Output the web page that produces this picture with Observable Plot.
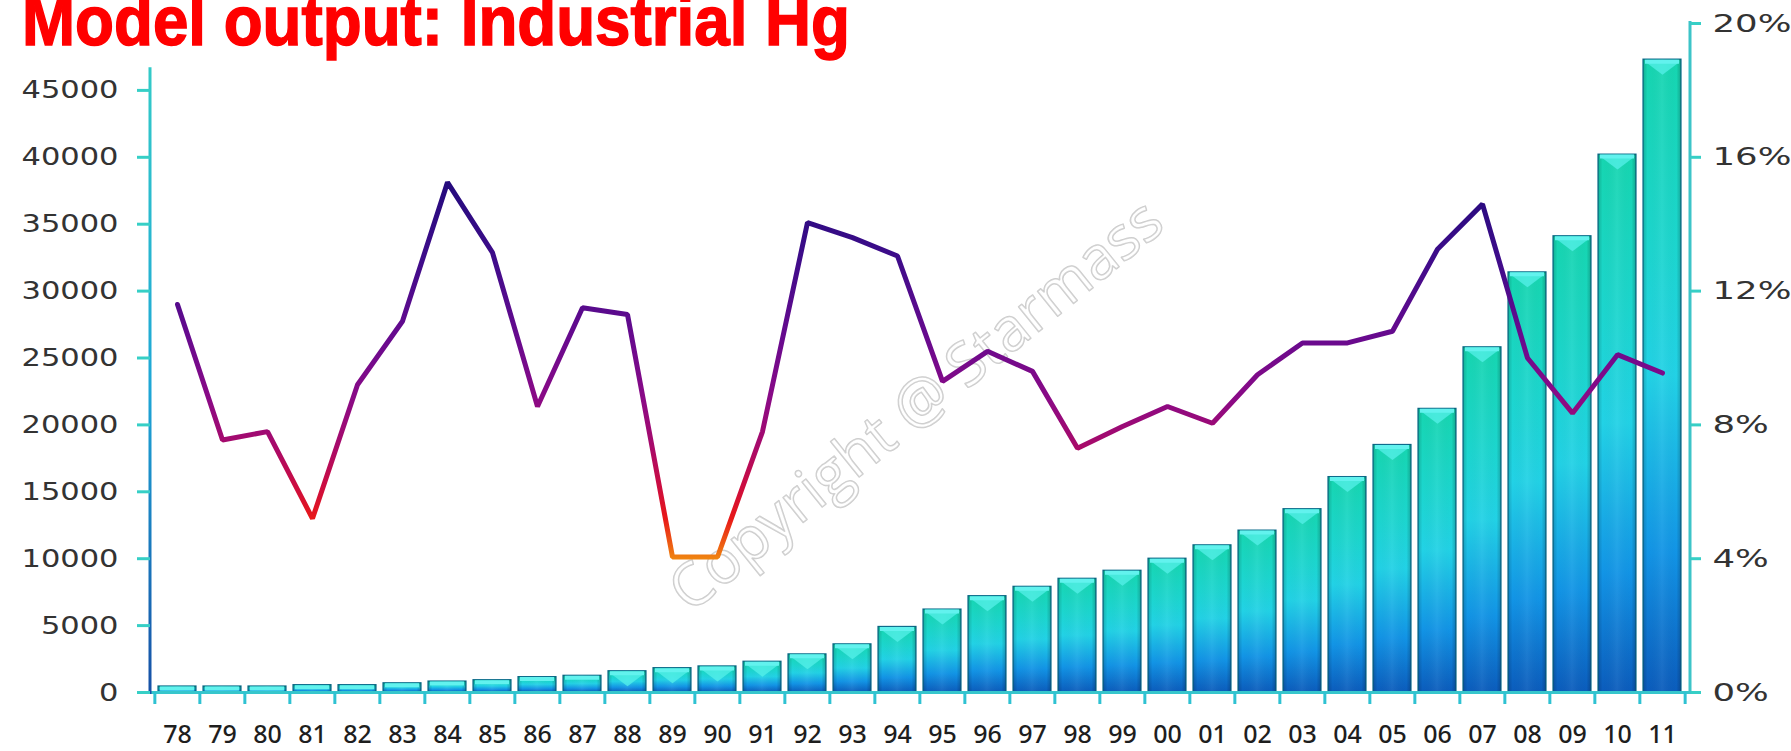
<!DOCTYPE html>
<html><head><meta charset="utf-8">
<script src="https://cdn.jsdelivr.net/npm/d3@7"></script>
<script src="https://cdn.jsdelivr.net/npm/@observablehq/plot@0.6"></script>
<style>
body{margin:0;background:#fff;}
#wrap{position:relative;width:1791px;height:751px;overflow:hidden;background:#fff;}
#wrap svg{position:absolute;left:0;top:0;}
#title{position:absolute;left:22px;top:-14px;font-family:"Liberation Sans",Arial,sans-serif;font-weight:bold;font-size:70px;color:#ff0000;line-height:1;white-space:nowrap;z-index:2;transform-origin:left top;-webkit-text-stroke:1.5px #ff0000;}
</style></head>
<body><div id="wrap"><div id="title">Model output: Industrial Hg</div></div>
<script>
// ---- data ----
const years = ["78","79","80","81","82","83","84","85","86","87","88","89","90","91","92","93","94","95","96","97","98","99","00","01","02","03","04","05","06","07","08","09","10","11"];
const output = [450,450,450,550,550,690,820,920,1150,1250,1590,1820,1950,2300,2850,3600,4900,6200,7200,7900,8500,9100,10000,11000,12100,13700,16100,18500,21200,25800,31400,34100,40200,47300];
const growthPct = [11.6,7.55,7.8,5.2,9.2,11.1,15.25,13.15,8.55,11.5,11.3,4.05,4.05,7.8,14.05,13.6,13.05,9.3,10.2,9.6,7.3,7.95,8.55,8.05,9.5,10.45,10.45,10.8,13.25,14.6,10.0,8.35,10.1,9.55];
const leftTicks = [0,5000,10000,15000,20000,25000,30000,35000,40000,45000];
const rightTicksPct = [0,4,8,12,16,20];
const watermark = ["Copyright @ Starmass"];

// ---- layout ----
const W = 1791, H = 751;
const mL = 150, mR = 101, mT = 23, mB = 59;
const leftMax = 50000, pctMax = 20, k = leftMax / pctMax;
const pad = 0.15;
const step = (W - mL - mR) / years.length;
const halfBar = step * (1 - pad) / 2;

const rows = years.map((y, i) => ({year: y, output: output[i], pct: growthPct[i]}));

function defsMark(index, scales, values, dim) {
  const g = d3.create("svg:g");
  const defs = g.append("defs");
  const bg = defs.append("linearGradient").attr("id", "barGrad")
    .attr("x1", 0).attr("y1", 0).attr("x2", 0).attr("y2", 1);
  [[0, "#16d6b0"], [0.3, "#1cd6cf"], [0.5, "#22d2e6"], [0.78, "#1294e6"], [1, "#0b5cbc"]]
    .forEach(([o, c]) => bg.append("stop").attr("offset", o).attr("stop-color", c));
  const hg = defs.append("linearGradient").attr("id", "barShade")
    .attr("x1", 0).attr("y1", 0).attr("x2", 1).attr("y2", 0);
  [[0, "#000", 0.18], [0.12, "#000", 0], [0.5, "#fff", 0.06], [0.88, "#000", 0], [1, "#000", 0.22]]
    .forEach(([o, c, a]) => hg.append("stop").attr("offset", o).attr("stop-color", c).attr("stop-opacity", a));
  const lg = defs.append("linearGradient").attr("id", "lineGrad").attr("gradientUnits", "userSpaceOnUse")
    .attr("x1", 0).attr("x2", 0).attr("y1", scales.y(16 * k)).attr("y2", scales.y(4 * k));
  [[0, "#1c0a78"], [0.25, "#3e0c8a"], [0.45, "#680a8e"], [0.6, "#8a0a86"], [0.72, "#a80a6a"], [0.82, "#cc0c40"], [0.9, "#e81818"], [1, "#f08410"]]
    .forEach(([o, c]) => lg.append("stop").attr("offset", o).attr("stop-color", c));
  const ag = defs.append("linearGradient").attr("id", "axisGrad").attr("gradientUnits", "userSpaceOnUse")
    .attr("x1", 0).attr("x2", 0).attr("y1", dim.marginTop).attr("y2", dim.height - dim.marginBottom);
  [[0, "#36cfc6"], [0.55, "#1ea6d6"], [1, "#1650a6"]]
    .forEach(([o, c]) => ag.append("stop").attr("offset", o).attr("stop-color", c));
  return g.node();
}

function axisLines(index, scales, values, dim) {
  const g = d3.create("svg:g");
  const x0 = dim.marginLeft, x1 = dim.width - dim.marginRight, yb = dim.height - dim.marginBottom;
  g.append("line").attr("x1", x0).attr("x2", x0).attr("y1", scales.y(46700)).attr("y2", yb + 2)
    .attr("stroke", "url(#axisGrad)").attr("stroke-width", 3);
  g.append("line").attr("x1", x1).attr("x2", x1).attr("y1", dim.marginTop - 2).attr("y2", yb + 2)
    .attr("stroke", "#3cc4c8").attr("stroke-width", 3);
  return g.node();
}

// bevel chevron drawn at the top of each bar
const chevron = {
  draw(ctx) {
    ctx.moveTo(-halfBar + 2, 0);
    ctx.lineTo(halfBar - 2, 0);
    ctx.lineTo(0, 13);
    ctx.closePath();
  }
};

const axisFont = "'DejaVu Sans', sans-serif";

const plot = Plot.plot({
  width: W, height: H,
  marginLeft: mL, marginRight: mR, marginTop: mT, marginBottom: mB,
  style: {background: "transparent", overflow: "visible"},
  x: {type: "band", domain: years, paddingInner: pad, paddingOuter: pad / 2, axis: null},
  y: {domain: [0, leftMax], axis: null},
  marks: [
    defsMark,
    Plot.barY(rows, {x: "year", y: "output", fill: "url(#barGrad)", stroke: "#0d6c8c", strokeWidth: 1.2}),
    Plot.barY(rows, {x: "year", y: "output", fill: "url(#barShade)"}),
    Plot.dot(rows, {filter: d => d.output > 1500, x: "year", y: "output", symbol: chevron, fill: "#56f0ea", fillOpacity: 0.75, stroke: "none", dy: 2}),
    Plot.tickY(rows, {x: "year", y: "output", stroke: "#62f2ee", strokeWidth: 4, dy: 2, insetLeft: 2, insetRight: 2}),
    Plot.text(watermark, {frameAnchor: "middle", text: d => d, rotate: -39, fontSize: 60, fill: "white", fillOpacity: 0.2, stroke: "#cccccc", strokeWidth: 1.5, dx: -4, dy: 48, fontFamily: "'Open Sans', sans-serif"}),
    Plot.ruleY([0], {stroke: "#36c6cc", strokeWidth: 3}),
    axisLines,
    Plot.line(rows, {x: "year", y: d => d.pct * k, stroke: "url(#lineGrad)", strokeWidth: 5, strokeLinejoin: "miter", strokeLinecap: "round"}),
    Plot.axisY({anchor: "left", label: null, ticks: leftTicks, tickSize: 13, tickPadding: 19, fontSize: 25, color: "#333", stroke: "url(#axisGrad)", strokeWidth: 3, fontFamily: axisFont, tickFormat: d => String(d)}),
    Plot.axisY({anchor: "right", label: null, ticks: rightTicksPct.map(p => p * k), tickSize: 10, tickPadding: 12, fontSize: 25, color: "#333", stroke: "url(#axisGrad)", strokeWidth: 3, fontFamily: axisFont, tickFormat: d => Math.round(d / k) + "%"}),
    Plot.axisX({anchor: "bottom", label: null, ticks: years, tickSize: 12, tickFormat: () => "", dx: -step / 2, stroke: "#2fc2d2", strokeWidth: 3}),
    Plot.axisX({anchor: "bottom", label: null, ticks: years.slice(-1), tickSize: 12, tickFormat: () => "", dx: step / 2, stroke: "#2fc2d2", strokeWidth: 3}),
    Plot.axisX({anchor: "bottom", label: null, ticks: years, tickSize: 0, tickPadding: 33, fontSize: 25, fontWeight: 500, color: "#1e1e1e", fontFamily: "'Noto Sans', sans-serif"})
  ]
});
document.getElementById("wrap").appendChild(plot);

// widen the y-axis labels like the reference's wide face
plot.querySelectorAll('g[aria-label="y-axis tick label"] text').forEach(t => {
  const w = t.getComputedTextLength();
  const f = t.textContent.includes("%") ? 1.42 : 1.22;
  t.setAttribute("textLength", w * f);
  t.setAttribute("lengthAdjust", "spacingAndGlyphs");
});

// fit title width
const title = document.getElementById("title");
const tw = title.getBoundingClientRect().width;
title.style.transform = `scaleX(${828 / tw})`;
</script>
</body></html>
